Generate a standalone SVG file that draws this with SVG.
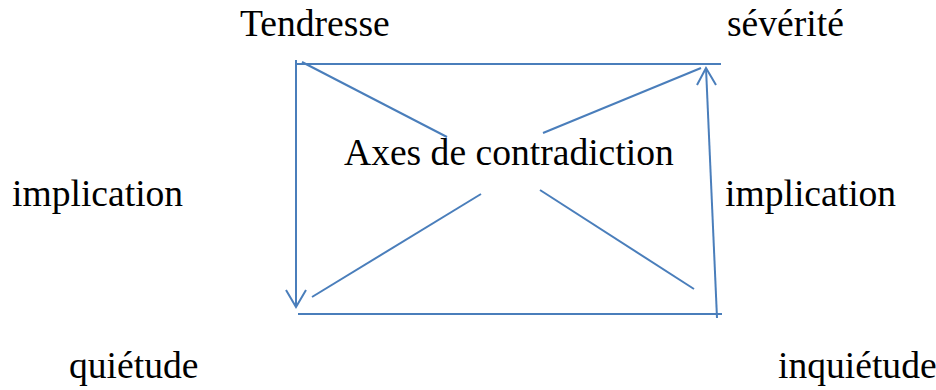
<svg xmlns="http://www.w3.org/2000/svg" width="936" height="390" viewBox="0 0 936 390">
<style>
text{font-family:"Liberation Serif","Times New Roman",serif;font-size:37.6px;fill:#000}
.ln{stroke:#4a7ebb;stroke-width:2;fill:none}
</style>
<rect width="936" height="390" fill="#fff"/>
<g id="labels">
<g id="n-tendresse"><text x="240" y="36">Tendresse</text></g>
<g id="n-severite"><text x="727" y="36">sévérité</text></g>
<g id="n-impl-left"><text x="12" y="206">implication</text></g>
<g id="n-impl-right"><text x="725" y="206">implication</text></g>
<g id="n-quietude"><text x="69" y="378">quiétude</text></g>
<g id="n-inquietude"><text x="778" y="378">inquiétude</text></g>
<g id="n-axes"><text x="344" y="165">Axes de contradiction</text></g>
</g>
<g id="connectors" class="ln">
<line x1="295" y1="64" x2="721" y2="64"/>
<line x1="298" y1="314" x2="722" y2="314"/>
<line x1="296" y1="60" x2="296" y2="307"/>
<polyline points="286,290 296,307 306,290"/>
<line x1="717" y1="318" x2="706" y2="68"/>
<polyline points="697,85 706,68 716,85"/>
<line x1="302" y1="62" x2="447" y2="137"/>
<line x1="543" y1="133" x2="701" y2="68"/>
<line x1="312" y1="297" x2="481" y2="194"/>
<line x1="540" y1="190" x2="694" y2="289"/>
</g>
</svg>
